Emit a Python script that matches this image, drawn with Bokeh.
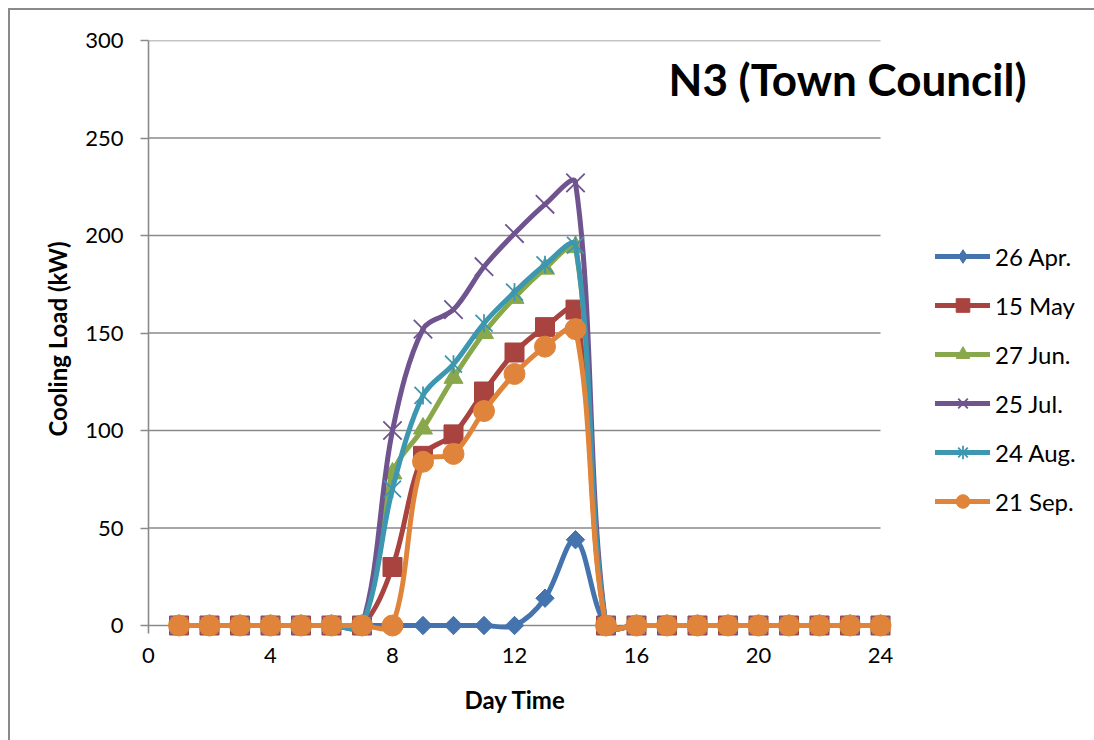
import numpy as np
from bokeh.plotting import figure
from bokeh.models import (Range1d, ColumnDataSource, Legend, LegendItem, Label, FixedTicker, Title)
from bokeh.embed import file_html
from bokeh.resources import INLINE

# ---------------- data ----------------
hours = [1, 2, 3, 4, 5, 6, 7, 8, 9, 10, 11, 12, 13, 14, 15, 16, 17, 18, 19, 20, 21, 22, 23, 24]
apr26 = [0, 0, 0, 0, 0, 0, 0, 0, 0, 0, 0, 0, 14, 44, 0, 0, 0, 0, 0, 0, 0, 0, 0, 0]
may15 = [0, 0, 0, 0, 0, 0, 0, 30, 87, 98, 120, 140, 153, 162, 0, 0, 0, 0, 0, 0, 0, 0, 0, 0]
jun27 = [0, 0, 0, 0, 0, 0, 0, 78, 101, 127, 150, 168, 183, 194, 0, 0, 0, 0, 0, 0, 0, 0, 0, 0]
jul25 = [0, 0, 0, 0, 0, 0, 0, 100, 152, 162, 184, 201, 216, 227, 0, 0, 0, 0, 0, 0, 0, 0, 0, 0]
aug24 = [0, 0, 0, 0, 0, 0, 0, 70, 118, 134, 155, 171, 185, 195, 0, 0, 0, 0, 0, 0, 0, 0, 0, 0]
sep21 = [0, 0, 0, 0, 0, 0, 0, 0, 84, 88, 110, 129, 143, 152, 0, 0, 0, 0, 0, 0, 0, 0, 0, 0]

series_labels = ["26 Apr.", "15 May", "27 Jun.", "25 Jul.", "24 Aug.", "21 Sep."]
series_values = [apr26, may15, jun27, jul25, aug24, sep21]
x_ticks = [0, 4, 8, 12, 16, 20, 24]
y_ticks = [0, 50, 100, 150, 200, 250, 300]
title_text = "N3 (Town Council)"
x_title = "Day Time"
y_title = "Cooling Load (kW)"

colors = ["#4473AE", "#A8433F", "#89A74B", "#6F548F", "#3E97B0", "#DF843A"]

FONT = "Lato"
GRAY = "#8A8A8A"

# layout: axes area from x=148 px (hour 0) to 880 px (hour 24), y=625 px (0) to 40 px (300);
# the frame is extended to the right edge and a little below 0 so that the legend,
# the title and the markers at zero are not clipped
W, H = 1094, 740
LEFT, TOP = 148, 40
ZERO_Y = 625
PAD_PX = 12
PX_PER_HOUR = (880 - LEFT) / 24.0
x_end = (W - LEFT) / PX_PER_HOUR
PX_PER_KW = (ZERO_Y - TOP) / 300.0
y_start = -PAD_PX / PX_PER_KW
BOTTOM = H - ZERO_Y - PAD_PX

p = figure(width=W, height=H, output_backend="svg", toolbar_location=None,
           x_range=Range1d(0, x_end), y_range=Range1d(y_start, 300),
           min_border_left=LEFT, min_border_right=0, min_border_top=TOP, min_border_bottom=BOTTOM)
p.outline_line_color = None
p.background_fill_color = "white"
p.border_fill_alpha = 0
p.styles = {
    "background": ("linear-gradient(#8A8A8A,#8A8A8A) 8px 8px / 2px 100% no-repeat, "
                   "linear-gradient(#8A8A8A,#8A8A8A) 8px 8px / 100% 2px no-repeat, white"),
}

# grid (limited to the axes area 0..24)
p.xgrid.grid_line_color = None
p.ygrid.grid_line_color = None
p.segment(x0=[x_ticks[0]] * len(y_ticks), x1=[x_ticks[-1]] * len(y_ticks),
          y0=y_ticks, y1=y_ticks, line_color=GRAY, line_width=1.6)

# axes
p.yaxis.ticker = FixedTicker(ticks=y_ticks)
p.yaxis.bounds = (-8 / PX_PER_KW, y_ticks[-1])
p.xaxis.ticker = FixedTicker(ticks=x_ticks)
p.xaxis.bounds = (x_ticks[0], x_ticks[-1])
for ax in (p.xaxis[0], p.yaxis[0]):
    ax.major_label_text_font = FONT
    ax.major_label_text_font_size = "22px"
    ax.major_label_text_color = "black"
    ax.axis_label_text_font = FONT
    ax.axis_label_text_font_style = "bold"
    ax.axis_label_text_font_size = "24px"
    ax.axis_label_text_color = "black"
    ax.minor_tick_line_color = None
p.yaxis.axis_line_color = GRAY
p.yaxis.axis_line_width = 1.6
p.yaxis.major_tick_line_color = GRAY
p.yaxis.major_tick_line_width = 1.6
p.yaxis.major_tick_out = 8
p.yaxis.major_tick_in = 0
p.yaxis.major_label_standoff = 17
p.yaxis.axis_label = y_title
p.yaxis.axis_label_standoff = 10
p.xaxis.axis_line_color = None
p.xaxis.major_tick_line_color = None
p.xaxis.major_tick_out = 0
p.xaxis.major_label_standoff = 22 - PAD_PX

# x axis title, centred under the 0..24 axis range (text about 100 px wide)
p.add_layout(Title(text=x_title, align="left",
                   offset=(x_ticks[-1] / 2) * PX_PER_HOUR - 50,
                   text_font=FONT, text_font_style="bold", text_font_size="24px",
                   text_color="black", standoff=34), "below")


def smooth_segments(xs, ys):
    """Excel-like smoothed line: cubic Bezier segments whose handles are the
    neighbour chord scaled by the relative (screen) segment lengths."""
    X = np.array(xs, dtype=float)
    Y = np.array(ys, dtype=float)
    n = len(X)
    sx, sy = X * PX_PER_HOUR, Y * PX_PER_KW
    seg = np.hypot(np.diff(sx), np.diff(sy))
    d = dict(x0=[], y0=[], x1=[], y1=[], cx0=[], cy0=[], cx1=[], cy1=[])
    for i in range(n - 1):
        if i == 0:
            f0 = 1 / 3.0
            tx0, ty0 = X[1] - X[0], Y[1] - Y[0]
        else:
            tot = seg[i - 1] + seg[i]
            f0 = (seg[i] / tot) / 3.0 if tot > 0 else 0
            tx0, ty0 = X[i + 1] - X[i - 1], Y[i + 1] - Y[i - 1]
        if i + 1 == n - 1:
            f1 = 1 / 3.0
            tx1, ty1 = X[i + 1] - X[i], Y[i + 1] - Y[i]
        else:
            tot = seg[i] + seg[i + 1]
            f1 = (seg[i] / tot) / 3.0 if tot > 0 else 0
            tx1, ty1 = X[i + 2] - X[i], Y[i + 2] - Y[i]
        d["x0"].append(X[i]); d["y0"].append(Y[i])
        d["x1"].append(X[i + 1]); d["y1"].append(Y[i + 1])
        d["cx0"].append(X[i] + tx0 * f0); d["cy0"].append(Y[i] + ty0 * f0)
        d["cx1"].append(X[i + 1] - tx1 * f1); d["cy1"].append(Y[i + 1] - ty1 * f1)
    return ColumnDataSource(d)


LW = 5
nan_vals = [np.nan] * len(hours)
items = []
for k, (lab, vals) in enumerate(zip(series_labels, series_values)):
    c = colors[k]
    src = smooth_segments(hours, vals)
    p.bezier(x0="x0", y0="y0", x1="x1", y1="y1", cx0="cx0", cy0="cy0", cx1="cx1", cy1="cy1",
             source=src, line_color=c, line_width=LW, line_cap="round", line_join="round")
    # legend proxy for the line (not drawn in the plot: NaN values)
    rends = [p.line(x=hours, y=nan_vals, line_color=c, line_width=LW, line_cap="round")]
    if k == 0:
        p.scatter(hours, vals, marker="square", angle=np.pi / 4, size=13,
                  fill_color=c, line_color=c, line_width=1)
        rends.append(p.scatter(hours, nan_vals, marker="diamond", fill_color=c, line_color=c))
    elif k == 1:
        rends.append(p.scatter(hours, vals, marker="square", size=19,
                               fill_color=c, line_color=c, line_width=1))
    elif k == 2:
        rends.append(p.scatter(hours, vals, marker="triangle", size=19,
                               fill_color=c, line_color=c, line_width=1))
    elif k == 3:
        rends.append(p.scatter(hours, vals, marker="x", size=26, line_color=c, line_width=1.8))
    elif k == 4:
        p.scatter(hours, vals, marker="x", size=24, line_color=c, line_width=1.8)
        p.scatter(hours, vals, marker="dash", angle=np.pi / 2, size=18, line_color=c, line_width=1.8)
        rends.append(p.scatter(hours, nan_vals, marker="asterisk", line_color=c, line_width=1.8))
    else:
        rends.append(p.scatter(hours, vals, marker="circle", size=21,
                               fill_color=c, line_color=c, line_width=1))
    items.append(LegendItem(label=lab, renderers=rends))

GH, SP = 34, 15
legend_h = len(items) * GH + (len(items) - 1) * SP
legend_top = 256 - GH / 2
legend = Legend(items=items, location=(935 - LEFT, (H - BOTTOM) - legend_top - legend_h),
                orientation="vertical",
                glyph_width=55, glyph_height=GH, spacing=SP, padding=0, margin=0,
                label_standoff=5, label_text_font=FONT, label_text_font_size="24px",
                label_text_color="black", border_line_color=None,
                background_fill_alpha=0, label_height=GH)
p.add_layout(legend, "center")

# chart title inside the plot area
p.add_layout(Label(x=(668 - LEFT) / PX_PER_HOUR, y=(ZERO_Y - 78) / PX_PER_KW,
                   text=title_text, text_font=FONT, text_font_style="bold",
                   text_font_size="44px", text_color="black", text_baseline="middle",
                   text_align="left"))

open("out.html", "w").write(file_html(p, INLINE))
